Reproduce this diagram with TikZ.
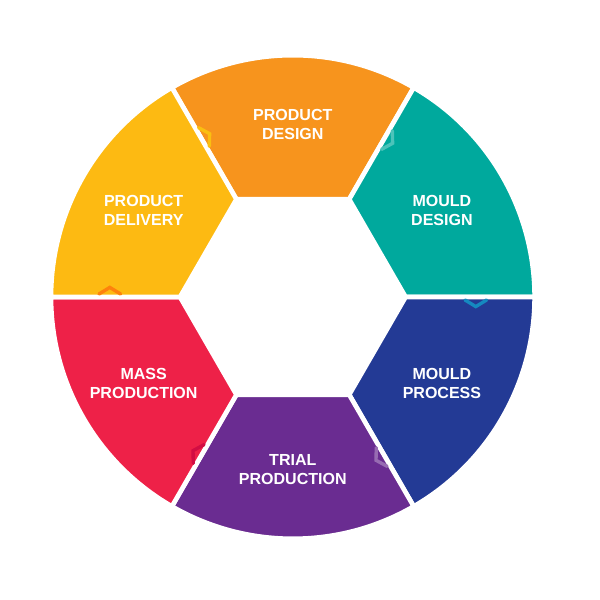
\documentclass[tikz,border=0pt]{standalone}
\usepackage{fontspec}
\setmainfont{Liberation Sans}
\usetikzlibrary{calc}
\definecolor{cdesign}{HTML}{F7941D}
\definecolor{cmould}{HTML}{00A99D}
\definecolor{cprocess}{HTML}{233A95}
\definecolor{ctrial}{HTML}{6A2C91}
\definecolor{cmass}{HTML}{EE2148}
\definecolor{cdelivery}{HTML}{FDBA12}
\begin{document}
\begin{tikzpicture}[
      seg/.style={draw=white,line width=2.2pt,line join=round},
      lbl/.style={text=white,font=\fontsize{7.6}{9}\selectfont\bfseries,align=center},
      chev/.style={line width=1.6pt,line cap=round,line join=miter}
    ]
    \useasboundingbox (0,0) rectangle (10,10);
    \coordinate (O) at (4.88,5.05);
    % six ring segments
    \foreach \a/\c in {60/cdesign,0/cmould,-60/cprocess,240/ctrial,180/cmass,120/cdelivery}{
      \fill[\c,seg] ($(O)+(\a:1.88)$) -- ($(O)+(\a:4.03)$)
        arc[start angle=\a,delta angle=60,radius=4.03]
        -- ($(O)+(\a+60:1.88)$) -- cycle;
    }
    % arrows between segments
    \foreach \a/\c in {120/cdesign!60!yellow,60/cmould!70!white,0/cprocess!60!cyan,-60/ctrial!70!white,240/cmass!40!purple,180/cdelivery!70!red}{
      \draw[chev,\c] ($(O)+(\a:3.05)+(\a+90:-0.05)+(\a:0.18)$) -- ($(O)+(\a:3.05)+(\a-90:0.16)$) -- ($(O)+(\a:3.05)+(\a+90:-0.05)+(\a:-0.18)$);
    }
    \node[lbl] (pd) at ($(O)+(90:2.87)$) {PRODUCT\\DESIGN};
    \node[lbl] (md) at ($(O)+(30:2.87)$) {MOULD\\DESIGN};
    \node[lbl] (mp) at ($(O)+(-30:2.87)$) {MOULD\\PROCESS};
    \node[lbl] (tp) at ($(O)+(-90:2.87)$) {TRIAL\\PRODUCTION};
    \node[lbl] (mpr) at ($(O)+(210:2.87)$) {MASS\\PRODUCTION};
    \node[lbl] (del) at ($(O)+(150:2.87)$) {PRODUCT\\DELIVERY};
  \end{tikzpicture}
\end{document}
